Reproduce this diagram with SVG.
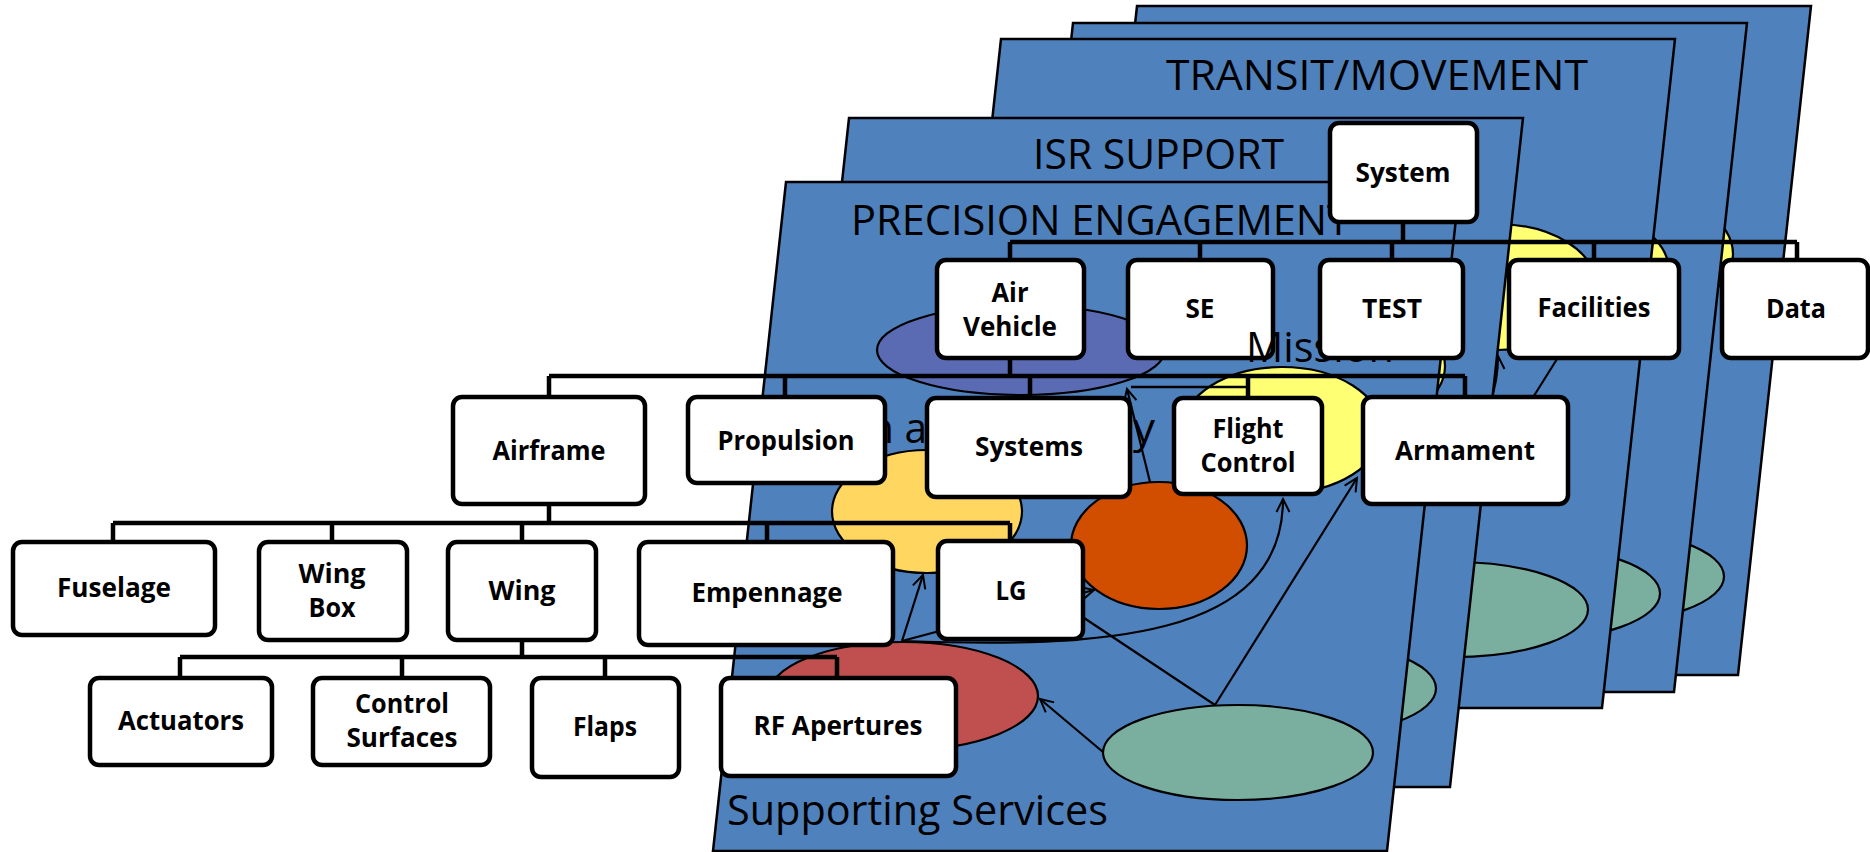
<svg xmlns="http://www.w3.org/2000/svg" width="1870" height="852" viewBox="0 0 1870 852">
<style>
.pn{fill:#4F81BD;stroke:#000;stroke-width:2.5;stroke-linejoin:miter}
.el{stroke:#000;stroke-width:2.2}
.ar{fill:none;stroke:#000;stroke-width:2.2;marker-end:url(#ah)}
.ln{fill:none;stroke:#000;stroke-width:2.2}
.big{font-family:"Open Sans","Liberation Sans",sans-serif;font-size:42px;fill:#000}
.box{fill:#fff;stroke:#000;stroke-width:4.5}
.lbl{font-family:"Open Sans","Liberation Sans",sans-serif;font-weight:bold;font-size:26px;fill:#000;text-anchor:middle}
.tree{fill:none;stroke:#000;stroke-width:4.5;stroke-linejoin:miter}
</style>
<defs>
<marker id="ah" markerUnits="userSpaceOnUse" viewBox="0 0 16 16" markerWidth="16" markerHeight="16" refX="14" refY="8" orient="auto">
<path d="M1,1.5 L14,8 L1,14.5" fill="none" stroke="#000" stroke-width="2"/>
</marker>
<g id="panel">
<polygon class="pn" points="786,182 1460,182 1387,851 713,851"/>
<ellipse class="el" cx="1021" cy="350" rx="144" ry="45" fill="#5A6BB4"/>
<ellipse class="el" cx="1282" cy="430" rx="100" ry="63" fill="#FFFF73"/>
<ellipse class="el" cx="927" cy="511.5" rx="95" ry="61.5" fill="#FFD660"/>
<ellipse class="el" cx="1159" cy="545.5" rx="88" ry="63.5" fill="#D14E00"/>
<ellipse class="el" cx="903" cy="696" rx="135" ry="54" fill="#C0504F"/>
<ellipse class="el" cx="1238" cy="752.5" rx="135" ry="47.5" fill="#7AAFA0"/>
<path class="ar" d="M902,641 L923,575"/>
<path class="ar" d="M902,641 L1094,590"/>
<path class="ar" d="M902,641 C1100,648 1283,640 1283,499"/>
<path class="ln" d="M1215,705 L1060,602"/>
<path class="ar" d="M1215,705 L1357,478"/>
<path class="ar" d="M1103,752 L1040,699"/>
<path class="ar" d="M1150,482 L1127,389"/>
</g>
</defs>

<g id="panel-A"><use href="#panel" transform="translate(351,-176)"/></g>
<g id="panel-B"><use href="#panel" transform="translate(287,-159)"/></g>
<g id="panel-C"><use href="#panel" transform="translate(215,-143)"/>
<text class="big" x="1166" y="90" textLength="422" lengthAdjust="spacingAndGlyphs">TRANSIT/MOVEMENT</text></g>
<g id="panel-D"><use href="#panel" transform="translate(63,-64)"/>
<text class="big" x="1033" y="169" textLength="251" lengthAdjust="spacingAndGlyphs">ISR SUPPORT</text></g>
<g id="panel-E"><use href="#panel"/>
<text class="big" x="851" y="235" textLength="499" lengthAdjust="spacingAndGlyphs">PRECISION ENGAGEMENT</text>
<text class="big" x="869" y="443" textLength="58" lengthAdjust="spacingAndGlyphs">n a</text>
<text class="big" x="1133" y="443" textLength="22" lengthAdjust="spacingAndGlyphs">y</text>
<text class="big" x="727" y="825" textLength="381" lengthAdjust="spacingAndGlyphs">Supporting Services</text>
</g>

<g id="connectors">
<path class="tree" d="M1403,222 V242 M1010,242 H1797 M1010,242 V260 M1200,242 V260 M1392,242 V260 M1594,242 V260 M1797,242 V260"/>
<path class="tree" d="M1010,358 V376 M549,376 H1465 M549,376 V397 M785,376 V397 M1030,376 V398 M1248,376 V398 M1465,376 V397"/>
<path class="ln" d="M1131,387 H1248" style="stroke-width:2.6"/>
<path class="tree" d="M549,504 V523 M113,523 H1010 M113,523 V542 M332,523 V542 M522,523 V542 M767,523 V542 M1010,523 V541"/>
<path class="tree" d="M522,640 V657 M180,657 H837 M180,657 V678 M402,657 V678 M605,657 V678 M837,657 V678"/>
</g>

<g id="node-system"><rect class="box" x="1330" y="123" width="147" height="99" rx="9"/><text class="lbl" x="1403" y="182" textLength="95" lengthAdjust="spacingAndGlyphs">System</text></g>
<g id="node-airvehicle"><rect class="box" x="937" y="260" width="147" height="98" rx="9"/><text class="lbl" x="1010" y="302" textLength="37" lengthAdjust="spacingAndGlyphs">Air</text><text class="lbl" x="1010" y="336" textLength="94" lengthAdjust="spacingAndGlyphs">Vehicle</text></g>
<g id="node-se"><rect class="box" x="1128" y="260" width="145" height="98" rx="9"/><text class="lbl" x="1200" y="318" textLength="29" lengthAdjust="spacingAndGlyphs">SE</text></g>
<g id="mission-label"><text class="big" x="1246" y="362" textLength="148" lengthAdjust="spacingAndGlyphs">Mission</text></g>
<g id="node-test"><rect class="box" x="1320" y="260" width="143" height="98" rx="9"/><text class="lbl" x="1392" y="318" textLength="60" lengthAdjust="spacingAndGlyphs">TEST</text></g>
<g id="node-facilities"><rect class="box" x="1509" y="260" width="170" height="98" rx="9"/><text class="lbl" x="1594" y="317" textLength="113" lengthAdjust="spacingAndGlyphs">Facilities</text></g>
<g id="node-data"><rect class="box" x="1722" y="260" width="146" height="98" rx="9"/><text class="lbl" x="1796" y="318" textLength="60" lengthAdjust="spacingAndGlyphs">Data</text></g>
<g id="node-airframe"><rect class="box" x="453" y="397" width="192" height="107" rx="9"/><text class="lbl" x="549" y="460" textLength="113" lengthAdjust="spacingAndGlyphs">Airframe</text></g>
<g id="node-propulsion"><rect class="box" x="688" y="397" width="197" height="86" rx="9"/><text class="lbl" x="786" y="450" textLength="137" lengthAdjust="spacingAndGlyphs">Propulsion</text></g>
<g id="node-systems"><rect class="box" x="927" y="398" width="203" height="99" rx="9"/><text class="lbl" x="1029" y="456" textLength="108" lengthAdjust="spacingAndGlyphs">Systems</text></g>
<g id="node-flightcontrol"><rect class="box" x="1174" y="398" width="148" height="96" rx="9"/><text class="lbl" x="1248" y="438" textLength="71" lengthAdjust="spacingAndGlyphs">Flight</text><text class="lbl" x="1248" y="472" textLength="95" lengthAdjust="spacingAndGlyphs">Control</text></g>
<g id="node-armament"><rect class="box" x="1363" y="397" width="205" height="107" rx="9"/><text class="lbl" x="1465" y="460" textLength="140" lengthAdjust="spacingAndGlyphs">Armament</text></g>
<g id="node-fuselage"><rect class="box" x="13" y="542" width="202" height="93" rx="9"/><text class="lbl" x="114" y="597" textLength="114" lengthAdjust="spacingAndGlyphs">Fuselage</text></g>
<g id="node-wingbox"><rect class="box" x="259" y="542" width="148" height="98" rx="9"/><text class="lbl" x="332" y="583" textLength="67" lengthAdjust="spacingAndGlyphs">Wing</text><text class="lbl" x="332" y="617" textLength="47" lengthAdjust="spacingAndGlyphs">Box</text></g>
<g id="node-wing"><rect class="box" x="448" y="542" width="148" height="98" rx="9"/><text class="lbl" x="522" y="600" textLength="67" lengthAdjust="spacingAndGlyphs">Wing</text></g>
<g id="node-empennage"><rect class="box" x="639" y="542" width="254" height="103" rx="9"/><text class="lbl" x="767" y="602" textLength="151" lengthAdjust="spacingAndGlyphs">Empennage</text></g>
<g id="node-lg"><rect class="box" x="938" y="541" width="145" height="98" rx="9"/><text class="lbl" x="1011" y="600" textLength="31" lengthAdjust="spacingAndGlyphs">LG</text></g>
<g id="node-actuators"><rect class="box" x="90" y="678" width="182" height="87" rx="9"/><text class="lbl" x="181" y="730" textLength="126" lengthAdjust="spacingAndGlyphs">Actuators</text></g>
<g id="node-controlsurfaces"><rect class="box" x="313" y="678" width="177" height="87" rx="9"/><text class="lbl" x="402" y="713" textLength="94" lengthAdjust="spacingAndGlyphs">Control</text><text class="lbl" x="402" y="747" textLength="111" lengthAdjust="spacingAndGlyphs">Surfaces</text></g>
<g id="node-flaps"><rect class="box" x="532" y="678" width="147" height="99" rx="9"/><text class="lbl" x="605" y="736" textLength="64" lengthAdjust="spacingAndGlyphs">Flaps</text></g>
<g id="node-rfapertures"><rect class="box" x="721" y="678" width="235" height="98" rx="9"/><text class="lbl" x="838" y="735" textLength="169" lengthAdjust="spacingAndGlyphs">RF Apertures</text></g>
</svg>
